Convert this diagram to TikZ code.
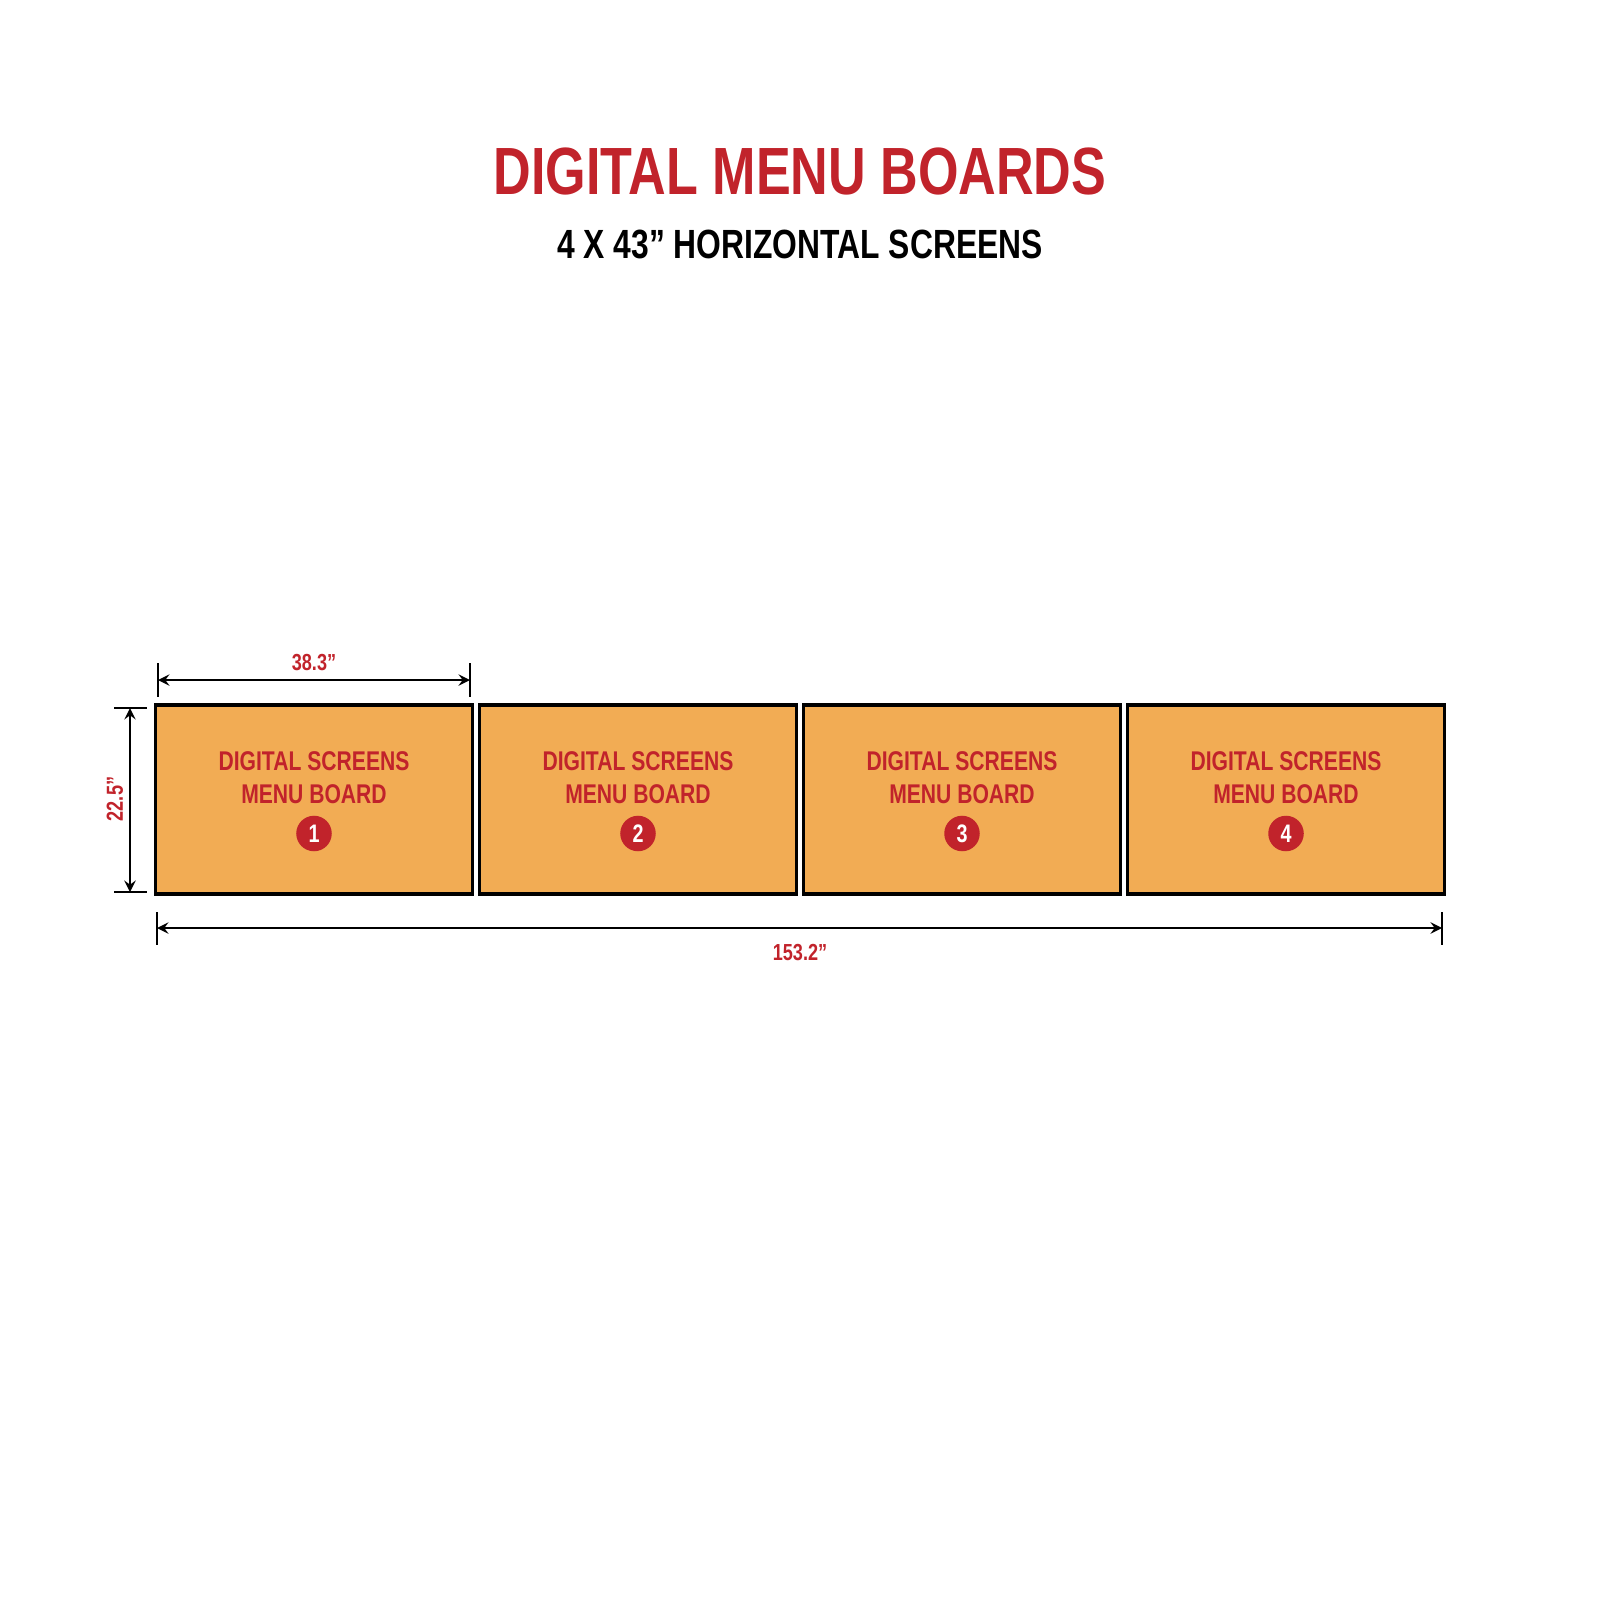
\documentclass[tikz,border=0pt]{standalone}
\usepackage{fontspec}
\usepackage{tikz}
\usetikzlibrary{positioning}
\newfontfamily\condfont[FakeStretch=0.78]{Liberation Sans}
\definecolor{menuRed}{HTML}{C1232B}
\definecolor{screenOrange}{HTML}{F2AC54}

\begin{document}
\begin{tikzpicture}[%
    x=0.01cm, y=-0.01cm,
    screen/.style={%
        draw,
        line width=1pt,
        fill=screenOrange,
        minimum width=3.17cm,
        minimum height=1.885cm,
        inner sep=0pt
    },
    screenText/.style={%
        text=menuRed,
        align=center,
        inner sep=0pt,
        font=\condfont\bfseries\fontsize{7.7}{9.4}\selectfont
    },
    badge/.style={%
        circle,
        fill=menuRed,
        text=white,
        minimum size=0.355cm,
        inner sep=0pt,
        font=\condfont\bfseries\fontsize{7.2}{8}\selectfont
    },
    dimLabel/.style={%
        text=menuRed,
        inner sep=0pt,
        font=\condfont\bfseries\fontsize{6.6}{8}\selectfont
    },
    dimLine/.style={%
        line width=0.45pt
    },
    >=stealth
]
\useasboundingbox (0,0) rectangle (1600,1600);

% Heading
    \node[text=menuRed, inner sep=0pt, font=\condfont\bfseries\fontsize{19}{23}\selectfont] (title) at (800,172) {DIGITAL MENU BOARDS};
    \node[inner sep=0pt, font=\condfont\bfseries\fontsize{11.6}{14}\selectfont] (subtitle) at (800,244) {4 X 43” HORIZONTAL SCREENS};

% Screens
    \node[screen] (screen1) at (314,799.5) {};
    \node[screen] (screen2) at (638,799.5) {};
    \node[screen] (screen3) at (962,799.5) {};
    \node[screen] (screen4) at (1286,799.5) {};

% Screen texts
    \node[screenText] (screenText1) at (314,778) {DIGITAL SCREENS\\MENU BOARD};
    \node[screenText] (screenText2) at (638,778) {DIGITAL SCREENS\\MENU BOARD};
    \node[screenText] (screenText3) at (962,778) {DIGITAL SCREENS\\MENU BOARD};
    \node[screenText] (screenText4) at (1286,778) {DIGITAL SCREENS\\MENU BOARD};

% Numbers
    \node[badge] (badge1) at (314,833.5) {1};
    \node[badge] (badge2) at (638,833.5) {2};
    \node[badge] (badge3) at (962,833.5) {3};
    \node[badge] (badge4) at (1286,833.5) {4};

% Width of one screen
    \coordinate (topL1) at (158,663);
    \coordinate (topL2) at (158,697);
    \coordinate (topR1) at (470,663);
    \coordinate (topR2) at (470,697);
    \coordinate (topL) at (158,680);
    \coordinate (topR) at (470,680);
    \node[dimLabel] (widthLabel) at (314,663) {38.3”};

% Height
    \coordinate (leftT1) at (114,708);
    \coordinate (leftT2) at (147,708);
    \coordinate (leftB1) at (114,892);
    \coordinate (leftB2) at (147,892);
    \coordinate (leftT) at (130,708);
    \coordinate (leftB) at (130,892);
    \node[dimLabel, rotate=90] (heightLabel) at (115,799) {22.5”};

% Total width
    \coordinate (botL1) at (157,912);
    \coordinate (botL2) at (157,945);
    \coordinate (botR1) at (1442,912);
    \coordinate (botR2) at (1442,945);
    \coordinate (botL) at (157,928);
    \coordinate (botR) at (1442,928);
    \node[dimLabel] (totalLabel) at (800,953) {153.2”};

% Lines
\draw[dimLine] (topL1) -- (topL2);
\draw[dimLine] (topR1) -- (topR2);
\draw[dimLine, <->] (topL) -- (topR);

\draw[dimLine] (leftT1) -- (leftT2);
\draw[dimLine] (leftB1) -- (leftB2);
\draw[dimLine, <->] (leftT) -- (leftB);

\draw[dimLine] (botL1) -- (botL2);
\draw[dimLine] (botR1) -- (botR2);
\draw[dimLine, <->] (botL) -- (botR);

\end{tikzpicture}
\end{document}
